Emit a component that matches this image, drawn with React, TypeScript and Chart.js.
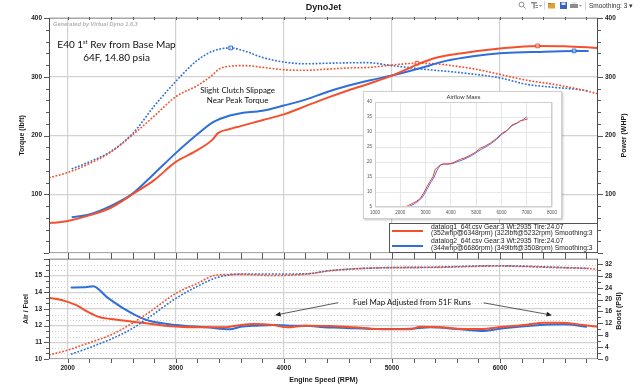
import React, { useEffect, useRef } from 'react';
import { Chart, registerables } from 'chart.js';

Chart.register(...registerables);

const RED = '#f4502e';
const BLUE = '#2e6fd8';
const GRID = '#d2d2d2';
const TICK_COLOR = '#1e1e1e';
const FONT = "'Liberation Sans', Arial, sans-serif";
const NOTE_FONT = "Lato, 'Open Sans', sans-serif";

// ---- axes ----
const RPM_MIN = 1827;
const RPM_MAX = 6907;
const rpmTicks = [2000, 3000, 4000, 5000, 6000];
const torqueTicks = [0, 100, 200, 300, 400];
const powerTicks = [0, 100, 200, 300, 400];
const afrTicks = [10, 11, 12, 13, 14, 15, 16];
const BOOST_MAX = 33.67;
const boostTicks = [0, 4, 8, 12, 16, 20, 24, 28, 32];
const airflowRpmTicks = [1000, 2000, 3000, 4000, 5000, 6000, 7000, 8000];
const airflowTicks = [5, 10, 15, 20, 25, 30, 35, 40];

// ---- datalog1 (red) power WHP ----
const run1PowerRpm = [1827, 1900, 2000, 2200, 2400, 2500, 2600, 2800, 3000, 3200, 3340, 3390, 3500, 3600, 3800, 4000, 4200, 4400, 4600, 4800, 5000, 5250, 5400, 5650, 6000, 6348, 6600, 6907];
const run1Power = [51, 52, 54.5, 64, 77, 88, 100, 124, 155, 175, 193, 204, 211, 216, 226, 236, 250, 264, 277, 289, 302, 322, 332, 340, 348, 352.5, 352, 349];
// ---- datalog2 (blue) power WHP ----
const run2PowerRpm = [2037, 2200, 2400, 2600, 2800, 3000, 3200, 3350, 3500, 3600, 3800, 4000, 4200, 4400, 4600, 4800, 5000, 5250, 5500, 5750, 6000, 6300, 6686, 6820];
const run2Power = [61, 65.5, 80, 101, 135, 170, 202, 223, 234, 238, 242, 251, 261, 274, 285, 294, 302, 314, 327, 335, 340, 342, 344, 344];
// ---- datalog1 torque lbft ----
const run1TorqueRpm = [1827, 2000, 2200, 2400, 2600, 2800, 3000, 3200, 3340, 3400, 3500, 3650, 3800, 4000, 4200, 4400, 4600, 4800, 5000, 5232, 5400, 5632, 5800, 6000, 6250, 6500, 6700, 6907];
const run1Torque = [128, 137, 152, 172, 201, 233, 266, 285, 303, 313, 318, 319, 316, 312, 311, 313, 315, 316, 320, 323, 322, 317, 312, 304, 294, 287, 280, 271];
// ---- datalog2 torque lbft ----
const run2TorqueRpm = [2037, 2200, 2400, 2600, 2800, 3000, 3200, 3350, 3508, 3650, 3800, 4000, 4200, 4400, 4768, 5000, 5232, 5400, 5632, 6000, 6250, 6500, 6686, 6820];
const run2Torque = [143, 155, 173, 203, 250, 292, 328, 344, 349, 343, 333, 325, 322, 323, 324, 319, 314, 311, 307, 298, 287, 282, 279, 276];

// ---- Air/Fuel ----
const run1AfrRpm = [1827, 1900, 2000, 2080, 2200, 2300, 2400, 2600, 2800, 3000, 3200, 3450, 3600, 3720, 3900, 4030, 4200, 4430, 4650, 4860, 5170, 5260, 5450, 5660, 5820, 6030, 6250, 6400, 6560, 6770, 6907];
const run1Afr = [13.67, 13.6, 13.43, 13.23, 12.78, 12.5, 12.4, 12.24, 12.08, 11.95, 11.9, 11.9, 12.04, 12.1, 12.04, 11.9, 12.0, 11.98, 11.9, 11.8, 11.78, 11.93, 11.9, 11.8, 11.8, 11.93, 12.05, 12.18, 12.18, 12.04, 11.93];
const run2AfrRpm = [2030, 2150, 2236, 2360, 2515, 2669, 2762, 3000, 3290, 3500, 3600, 3750, 3900, 4060, 4210, 4370, 4520, 4860, 5170, 5360, 5600, 5820, 6030, 6280, 6590, 6805];
const run2Afr = [14.29, 14.3, 14.37, 13.73, 13.04, 12.5, 12.28, 12.04, 11.9, 11.78, 11.93, 12.0, 12.04, 12.0, 12.0, 11.9, 11.88, 11.8, 11.82, 11.9, 11.8, 11.68, 11.85, 12.0, 12.08, 11.93];
// ---- Boost PSI ----
const run1BoostRpm = [1827, 2000, 2200, 2400, 2600, 2760, 3000, 3190, 3380, 3600, 3900, 4210, 4430, 4890, 5350, 5970, 6590, 6800, 6907];
const run1Boost = [1.35, 3.0, 5.5, 8.1, 12.1, 15.9, 22.1, 25.3, 28.3, 28.5, 28.1, 28.6, 29.7, 30.7, 30.8, 31.3, 30.7, 30.5, 30.2];
const run2BoostRpm = [2030, 2200, 2400, 2600, 2760, 3000, 3190, 3380, 3600, 3900, 4210, 4430, 4890, 5350, 5970, 6590, 6820];
const run2Boost = [1.6, 3.8, 6.7, 10.3, 14.2, 20.4, 24.3, 27.4, 28.6, 28.6, 28.7, 29.8, 30.7, 30.9, 31.4, 30.8, 30.5];

// ---- Airflow Mass inset ----
const run1AirRpm = [2190, 2320, 2455, 2620, 2786, 2920, 3050, 3180, 3300, 3381, 3480, 3579, 3700, 3850, 4042, 4200, 4373, 4560, 4770, 4960, 5167, 5350, 5563, 5800, 6026, 6230, 6423, 6600, 6754, 6900, 7044];
const run1Air = [5, 5.5, 6.1, 6.8, 7.8, 9.6, 11.7, 13.6, 15.2, 17.6, 18.2, 19.0, 19.4, 19.3, 19.6, 20.2, 20.9, 21.4, 22.3, 23.2, 24.6, 25.3, 26.3, 27.8, 29.6, 30.6, 32.4, 32.9, 33.8, 34.0, 34.4];
const run2AirRpm = [2300, 2430, 2550, 2700, 2850, 2980, 3100, 3220, 3340, 3440, 3530, 3620, 3750, 3900, 4080, 4250, 4400, 4600, 4800, 5000, 5200, 5400, 5600, 5800, 6000, 6200, 6400, 6580, 6750, 6880, 7000];
const run2Air = [5, 5.5, 6.0, 6.9, 8.0, 9.7, 11.6, 13.4, 15.0, 17.0, 18.3, 19.1, 19.3, 19.3, 19.5, 20.1, 20.5, 21.2, 22.0, 23.1, 24.2, 25.1, 26.2, 27.5, 29.1, 30.3, 32.0, 32.8, 33.6, 34.3, 35.0];

// ---- texts ----
const legendLines = [
  'datalog1_64f.csv Gear:3 Wt:2935 Tire:24.07',
  '(352whp@6348rpm) (322lbft@5232rpm) Smoothing:3',
  'datalog2_64f.csv Gear:3 Wt:2935 Tire:24.07',
  '(344whp@6686rpm) (349lbft@3508rpm) Smoothing:3',
];
// annotation anchors in data units
const noteTitle = { rpm: 2452, torque: 349 };
const noteTitle2 = { rpm: 2452, torque: 327 };
const noteClutch = { rpm: 3572, torque: 272 };
const noteClutch2 = { rpm: 3572, torque: 255 };
const noteFuel = { rpm: 5185, afr: 13.23 };
const arrowLeft = { fromRpm: 4503, fromAfr: 13.38, toRpm: 3919, toAfr: 12.63 };
const arrowRight = { fromRpm: 5848, fromAfr: 13.37, toRpm: 6481, toAfr: 12.63 };

const tickFont = { family: FONT, size: 6.5, weight: 'bold' as const };

function pts(xs: number[], ys: number[]) {
  return xs.map((x, i) => ({ x, y: ys[i] }));
}

function line(label: string, xs: number[], ys: number[], color: string, dotted: boolean, axis: string, marker: boolean) {
  let maxI = 0;
  ys.forEach((v, i) => { if (v > ys[maxI]) maxI = i; });
  return {
    label,
    data: pts(xs, ys),
    yAxisID: axis,
    borderColor: color,
    backgroundColor: color,
    borderWidth: dotted ? 1.6 : 2,
    borderDash: dotted ? [1.8, 1.6] : [],
    cubicInterpolationMode: 'monotone' as const,
    fill: false,
    pointStyle: 'rect' as const,
    pointRadius: (c: any) => (marker && c.dataIndex === maxI ? 2.6 : 0),
    pointBorderWidth: 1,
    pointBorderColor: color,
    pointBackgroundColor: 'rgba(255,255,255,0.5)',
    pointHitRadius: 0,
  };
}

function fit(ctx: CanvasRenderingContext2D, text: string, target: number, family: string, weight = 'normal', style = 'normal') {
  ctx.font = `${style} ${weight} 20px ${family}`;
  const w = ctx.measureText(text).width;
  const size = (20 * target) / w;
  ctx.font = `${style} ${weight} ${size}px ${family}`;
  return size;
}

function arrow(ctx: CanvasRenderingContext2D, x1: number, y1: number, x2: number, y2: number) {
  const ang = Math.atan2(y2 - y1, x2 - x1);
  const L = 5.5, W = 2.4;
  ctx.beginPath();
  ctx.moveTo(x1, y1);
  ctx.lineTo(x2 - Math.cos(ang) * L * 0.8, y2 - Math.sin(ang) * L * 0.8);
  ctx.stroke();
  ctx.beginPath();
  ctx.moveTo(x2, y2);
  ctx.lineTo(x2 - Math.cos(ang) * L - Math.sin(ang) * W, y2 - Math.sin(ang) * L + Math.cos(ang) * W);
  ctx.lineTo(x2 - Math.cos(ang) * L + Math.sin(ang) * W, y2 - Math.sin(ang) * L - Math.cos(ang) * W);
  ctx.closePath();
  ctx.fill();
}

function frame(ctx: CanvasRenderingContext2D, a: any) {
  ctx.strokeStyle = '#a8a8a8';
  ctx.lineWidth = 1;
  ctx.beginPath();
  ctx.moveTo(a.left, Math.round(a.top) + 0.5); ctx.lineTo(a.right, Math.round(a.top) + 0.5);
  ctx.moveTo(a.left, Math.round(a.bottom) - 0.5); ctx.lineTo(a.right, Math.round(a.bottom) - 0.5);
  ctx.stroke();
  ctx.strokeStyle = '#4a4a4a';
  ctx.beginPath();
  ctx.moveTo(Math.round(a.left) + 0.5, a.top); ctx.lineTo(Math.round(a.left) + 0.5, a.bottom);
  ctx.moveTo(Math.round(a.right) - 0.5, a.top); ctx.lineTo(Math.round(a.right) - 0.5, a.bottom);
  ctx.stroke();
}

function vText(ctx: CanvasRenderingContext2D, text: string, x: number, y: number) {
  ctx.save();
  ctx.translate(x, y);
  ctx.rotate(-Math.PI / 2);
  ctx.textAlign = 'center';
  ctx.textBaseline = 'middle';
  ctx.fillText(text, 0, 0);
  ctx.restore();
}

const topDecor = {
  id: 'topDecor',
  afterDraw(chart: any) {
    const { ctx, chartArea: a, scales } = chart;
    const x = scales.x, yT = scales.yT;
    ctx.save();
    frame(ctx, a);
    // minor ticks
    ctx.strokeStyle = '#5a5a5a';
    ctx.lineWidth = 1;
    ctx.beginPath();
    for (let v = 2000; v <= 6800; v += 200) {
      const p = Math.round(x.getPixelForValue(v)) + 0.5;
      ctx.moveTo(p, a.bottom); ctx.lineTo(p, a.bottom + 4);
      ctx.moveTo(p, a.top - 1); ctx.lineTo(p, a.top + 2);
    }
    for (let v = 0; v <= 400; v += 20) {
      const p = Math.round(yT.getPixelForValue(v)) + 0.5;
      const len = v % 100 === 0 ? 5 : 3;
      ctx.moveTo(a.left - len, p); ctx.lineTo(a.left, p);
      ctx.moveTo(a.right, p); ctx.lineTo(a.right + len, p);
    }
    ctx.stroke();

    // axis titles
    ctx.fillStyle = '#1a1a1a';
    ctx.font = `bold 7px ${FONT}`;
    vText(ctx, 'Torque (lbft)', a.left - 27, (a.top + a.bottom) / 2);
    vText(ctx, 'Power (WHP)', a.right + 26, (a.top + a.bottom) / 2);

    // chart title
    ctx.font = `bold 9px ${FONT}`;
    ctx.textAlign = 'center';
    ctx.textBaseline = 'middle';
    ctx.fillText('DynoJet', (a.left + a.right) / 2, 7.5);

    // toolbar
    ctx.strokeStyle = '#8a8a8a';
    ctx.beginPath(); ctx.arc(521.5, 4.5, 2.4, 0, Math.PI * 2); ctx.stroke();
    ctx.beginPath(); ctx.moveTo(523.3, 6.3); ctx.lineTo(525.5, 8.5); ctx.stroke();
    ctx.fillStyle = '#8c8c8c';
    ctx.fillRect(531, 2, 6, 1.5); ctx.fillRect(533.3, 2, 1.5, 6.5); ctx.fillRect(535.5, 5, 2.5, 1); ctx.fillRect(535.5, 7, 2.5, 1);
    ctx.beginPath(); ctx.moveTo(539, 5); ctx.lineTo(542, 5); ctx.lineTo(540.5, 6.7); ctx.fill();
    ctx.fillStyle = '#d8d8d8';
    ctx.fillRect(544, 1, 1, 9); ctx.fillRect(585, 1, 1, 9);
    ctx.fillStyle = '#d9a33a'; ctx.fillRect(548, 3, 7, 5.5);
    ctx.fillStyle = '#b27a1c'; ctx.fillRect(548, 3, 3, 1.2);
    ctx.fillStyle = '#3b62c4'; ctx.fillRect(560, 2, 7, 7);
    ctx.fillStyle = '#dfe6f7'; ctx.fillRect(561.5, 2.5, 4, 2.5);
    ctx.fillStyle = '#8d8d8d'; ctx.fillRect(570, 4, 8, 4);
    ctx.fillStyle = '#e6e6e6'; ctx.fillRect(571.5, 2, 5, 2);
    ctx.fillStyle = '#8c8c8c';
    ctx.beginPath(); ctx.moveTo(579, 5); ctx.lineTo(582, 5); ctx.lineTo(580.5, 6.7); ctx.fill();
    ctx.fillStyle = '#333';
    ctx.font = `6.5px ${FONT}`;
    ctx.textAlign = 'left';
    ctx.fillText('Smoothing: 3 \u25BE', 589, 6);

    // generated by
    ctx.fillStyle = '#b3b3b3';
    fit(ctx, 'Generated by Virtual Dyno 1.6.3', 85, FONT, 'bold', 'italic');
    ctx.textAlign = 'left';
    ctx.textBaseline = 'middle';
    ctx.fillText('Generated by Virtual Dyno 1.6.3', a.left + 4, a.top + 6.5);

    // title note with superscript
    ctx.fillStyle = '#111';
    ctx.textBaseline = 'alphabetic';
    const p1 = 'E40 1', sup = 'st', p2 = ' Rev from Base Map';
    ctx.font = `20px ${NOTE_FONT}`;
    const w1 = ctx.measureText(p1).width, w2 = ctx.measureText(p2).width;
    ctx.font = `12px ${NOTE_FONT}`;
    const ws = ctx.measureText(sup).width;
    const s = (20 * (123 - ws * 0.95)) / (w1 + w2);
    ctx.font = `${s}px ${NOTE_FONT}`;
    const m1 = ctx.measureText(p1).width, m2 = ctx.measureText(p2).width;
    ctx.font = `${s * 0.58}px ${NOTE_FONT}`;
    const ms = ctx.measureText(sup).width;
    const total = m1 + ms + m2;
    const cx = x.getPixelForValue(noteTitle.rpm);
    const by = yT.getPixelForValue(noteTitle.torque);
    let sx = cx - total / 2;
    ctx.textAlign = 'left';
    ctx.font = `${s}px ${NOTE_FONT}`;
    ctx.fillText(p1, sx, by);
    sx += m1;
    ctx.font = `${s * 0.58}px ${NOTE_FONT}`;
    ctx.fillText(sup, sx, by - s * 0.38);
    sx += ms;
    ctx.font = `${s}px ${NOTE_FONT}`;
    ctx.fillText(p2, sx, by);
    ctx.textAlign = 'center';
    ctx.fillText('64F, 14.80 psia', x.getPixelForValue(noteTitle2.rpm), yT.getPixelForValue(noteTitle2.torque));

    fit(ctx, 'Slight Clutch Slippage', 75, NOTE_FONT);
    ctx.fillText('Slight Clutch Slippage', x.getPixelForValue(noteClutch.rpm), yT.getPixelForValue(noteClutch.torque));
    ctx.fillText('Near Peak Torque', x.getPixelForValue(noteClutch2.rpm), yT.getPixelForValue(noteClutch2.torque));

    // legend box
    const lx = 389, ly = 223, lw = a.right - lx, lh = a.bottom - ly;
    ctx.fillStyle = '#fff';
    ctx.fillRect(lx, ly, lw, lh);
    ctx.strokeStyle = '#555';
    ctx.lineWidth = 1;
    ctx.strokeRect(lx + 0.5, ly + 0.5, lw - 1, lh - 1);
    ctx.lineWidth = 2;
    ctx.strokeStyle = RED;
    ctx.beginPath(); ctx.moveTo(lx + 3, ly + 8); ctx.lineTo(lx + 34, ly + 8); ctx.stroke();
    ctx.strokeStyle = BLUE;
    ctx.beginPath(); ctx.moveTo(lx + 3, ly + 23); ctx.lineTo(lx + 34, ly + 23); ctx.stroke();
    ctx.fillStyle = '#222';
    fit(ctx, legendLines[1], 162, FONT);
    ctx.textAlign = 'left';
    ctx.textBaseline = 'middle';
    const rows = [3.8, 10.6, 18.2, 25.4];
    legendLines.forEach((t, i) => ctx.fillText(t, lx + 42, ly + rows[i]));
    ctx.restore();
  },
};

const bottomDecor = {
  id: 'bottomDecor',
  beforeDatasetsDraw(chart: any) {
    const { ctx, chartArea: a, scales } = chart;
    const yA = scales.yA;
    ctx.save();
    ctx.strokeStyle = '#cdcdcd';
    ctx.lineWidth = 1;
    ctx.setLineDash([1, 2]);
    ctx.beginPath();
    for (let k = 30; k < 48; k++) {
      if (k % 3 === 0) continue;
      const p = Math.round(yA.getPixelForValue(k / 3)) + 0.5;
      ctx.moveTo(a.left, p); ctx.lineTo(a.right, p);
    }
    ctx.stroke();
    ctx.restore();
  },
  afterDraw(chart: any) {
    const { ctx, chartArea: a, scales } = chart;
    const x = scales.x, yA = scales.yA, yB = scales.yB;
    ctx.save();
    frame(ctx, a);
    ctx.strokeStyle = '#5a5a5a';
    ctx.lineWidth = 1;
    ctx.beginPath();
    for (let v = 2000; v <= 6800; v += 200) {
      const p = Math.round(x.getPixelForValue(v)) + 0.5;
      ctx.moveTo(p, a.bottom); ctx.lineTo(p, a.bottom + 4);
      ctx.moveTo(p, a.top - 4); ctx.lineTo(p, a.top);
    }
    for (let k = 30; k <= 48; k++) {
      const p = Math.round(yA.getPixelForValue(k / 3)) + 0.5;
      const len = k % 3 === 0 ? 5 : 3;
      ctx.moveTo(a.left - len, p); ctx.lineTo(a.left, p);
    }
    for (let v = 0; v <= 32; v += 2) {
      const p = Math.round(yB.getPixelForValue(v)) + 0.5;
      const len = v % 4 === 0 ? 5 : 3;
      ctx.moveTo(a.right, p); ctx.lineTo(a.right + len, p);
    }
    ctx.stroke();

    ctx.fillStyle = '#1a1a1a';
    ctx.font = `bold 7px ${FONT}`;
    vText(ctx, 'Air / Fuel', a.left - 23, (a.top + a.bottom) / 2);
    vText(ctx, 'Boost (PSI)', a.right + 21.5, (a.top + a.bottom) / 2 + 2);
    ctx.textAlign = 'center';
    ctx.textBaseline = 'middle';
    ctx.fillText('Engine Speed (RPM)', (a.left + a.right) / 2, a.bottom + 21);

    // fuel map note
    ctx.fillStyle = '#111';
    fit(ctx, 'Fuel Map Adjusted from 51F Runs', 118, NOTE_FONT);
    ctx.textAlign = 'center';
    ctx.textBaseline = 'alphabetic';
    ctx.fillText('Fuel Map Adjusted from 51F Runs', x.getPixelForValue(noteFuel.rpm), yA.getPixelForValue(noteFuel.afr));
    ctx.strokeStyle = '#333';
    ctx.fillStyle = '#222';
    ctx.lineWidth = 0.8;
    for (const ar of [arrowLeft, arrowRight]) {
      arrow(ctx, x.getPixelForValue(ar.fromRpm), yA.getPixelForValue(ar.fromAfr), x.getPixelForValue(ar.toRpm), yA.getPixelForValue(ar.toAfr));
    }
    ctx.restore();
  },
};

const insetDecor = {
  id: 'insetDecor',
  afterDraw(chart: any) {
    const { ctx, chartArea: a } = chart;
    ctx.save();
    ctx.fillStyle = '#333';
    ctx.font = `6px ${FONT}`;
    ctx.textAlign = 'center';
    ctx.textBaseline = 'middle';
    ctx.fillText('Airflow Mass', (a.left + a.right) / 2, 5.5);
    ctx.strokeStyle = '#cfcfcf';
    ctx.lineWidth = 1;
    ctx.strokeRect(Math.round(a.left) + 0.5, Math.round(a.top) + 0.5, Math.round(a.width) - 1, Math.round(a.height) - 1);
    ctx.restore();
  },
};

function setTicks(list: number[]) {
  return (s: any) => { s.ticks = list.map((v) => ({ value: v })); };
}

export default function App() {
  const topRef = useRef<HTMLCanvasElement>(null);
  const botRef = useRef<HTMLCanvasElement>(null);
  const insRef = useRef<HTMLCanvasElement>(null);

  useEffect(() => {
    const charts: Chart[] = [];
    const common = {
      responsive: false,
      animation: false as const,
      events: [] as any[],
      plugins: { legend: { display: false }, tooltip: { enabled: false }, title: { display: false } },
    };

    charts.push(new Chart(topRef.current as HTMLCanvasElement, {
      type: 'line',
      data: {
        datasets: [
          line('datalog1 power', run1PowerRpm, run1Power, RED, false, 'yP', true),
          line('datalog2 power', run2PowerRpm, run2Power, BLUE, false, 'yP', true),
          line('datalog1 torque', run1TorqueRpm, run1Torque, RED, true, 'yT', true),
          line('datalog2 torque', run2TorqueRpm, run2Torque, BLUE, true, 'yT', true),
        ] as any,
      },
      options: {
        ...common,
        layout: { padding: { top: 18, left: 0, right: 0, bottom: 0 } },
        scales: {
          x: {
            type: 'linear', min: RPM_MIN, max: RPM_MAX,
            afterBuildTicks: setTicks(rpmTicks),
            ticks: { display: false },
            grid: { color: GRID, lineWidth: 1.2, drawTicks: false },
            border: { display: false },
            afterFit: (s: any) => { s.height = 133; },
          },
          yT: {
            type: 'linear', position: 'left', min: 0, max: 400,
            afterBuildTicks: setTicks(torqueTicks),
            ticks: { font: tickFont, color: TICK_COLOR, padding: 7, callback: (v: any) => (v === 0 ? '' : String(v)) },
            grid: { color: GRID, lineWidth: 1.2, drawTicks: false },
            border: { display: false },
            afterFit: (s: any) => { s.width = 49; },
          },
          yP: {
            type: 'linear', position: 'right', min: 0, max: 400,
            afterBuildTicks: setTicks(powerTicks),
            ticks: { font: tickFont, color: TICK_COLOR, padding: 7, callback: (v: any) => (v === 0 ? '' : String(v)) },
            grid: { drawOnChartArea: false, drawTicks: false },
            border: { display: false },
            afterFit: (s: any) => { s.width = 42; },
          },
        },
      } as any,
      plugins: [topDecor],
    }));

    charts.push(new Chart(botRef.current as HTMLCanvasElement, {
      type: 'line',
      data: {
        datasets: [
          line('datalog1 boost', run1BoostRpm, run1Boost, RED, true, 'yB', false),
          line('datalog2 boost', run2BoostRpm, run2Boost, BLUE, true, 'yB', false),
          line('datalog1 A/F', run1AfrRpm, run1Afr, RED, false, 'yA', false),
          line('datalog2 A/F', run2AfrRpm, run2Afr, BLUE, false, 'yA', false),
        ] as any,
      },
      options: {
        ...common,
        layout: { padding: { top: 259, left: 0, right: 0, bottom: 0 } },
        scales: {
          x: {
            type: 'linear', min: RPM_MIN, max: RPM_MAX,
            afterBuildTicks: setTicks(rpmTicks),
            ticks: { font: tickFont, color: TICK_COLOR, padding: 5, maxRotation: 0, callback: (v: any) => String(v) },
            grid: { color: GRID, lineWidth: 1.2, drawTicks: false },
            border: { display: false },
            afterFit: (s: any) => { s.height = 27; },
          },
          yA: {
            type: 'linear', position: 'left', min: 10, max: 16,
            afterBuildTicks: setTicks(afrTicks),
            ticks: { font: tickFont, color: TICK_COLOR, padding: 7, callback: (v: any) => (v === 16 ? '' : String(v)) },
            grid: { color: GRID, lineWidth: 1.2, drawTicks: false },
            border: { display: false },
            afterFit: (s: any) => { s.width = 49; },
          },
          yB: {
            type: 'linear', position: 'right', min: 0, max: BOOST_MAX,
            afterBuildTicks: setTicks(boostTicks),
            ticks: { font: tickFont, color: TICK_COLOR, padding: 7, callback: (v: any) => String(v) },
            grid: { drawOnChartArea: false, drawTicks: false },
            border: { display: false },
            afterFit: (s: any) => { s.width = 42; },
          },
        },
      } as any,
      plugins: [bottomDecor],
    }));

    const insFont = { family: FONT, size: 4.5 };
    charts.push(new Chart(insRef.current as HTMLCanvasElement, {
      type: 'line',
      data: {
        datasets: [
          { data: pts(run1AirRpm, run1Air), borderColor: '#e2453c', borderWidth: 1, pointRadius: 0, tension: 0 },
          { data: pts(run2AirRpm, run2Air), borderColor: '#5a73d8', borderWidth: 1, pointRadius: 0, tension: 0 },
        ] as any,
      },
      options: {
        ...common,
        layout: { padding: { top: 10, left: 0, right: 9, bottom: 0 } },
        scales: {
          x: {
            type: 'linear', min: 1000, max: 8000,
            afterBuildTicks: setTicks(airflowRpmTicks),
            ticks: { font: insFont, color: '#555', padding: 3, maxRotation: 0, callback: (v: any) => String(v) },
            grid: { color: '#e6e6e6', drawTicks: false },
            border: { display: false },
            afterFit: (s: any) => { s.height = 11; },
          },
          y: {
            type: 'linear', min: 5, max: 40,
            afterBuildTicks: setTicks(airflowTicks),
            ticks: { font: insFont, color: '#555', padding: 3, callback: (v: any) => String(v) },
            grid: { color: '#e6e6e6', drawTicks: false },
            border: { display: false },
            afterFit: (s: any) => { s.width = 11; },
          },
        },
      } as any,
      plugins: [insetDecor],
    }));

    return () => charts.forEach((c) => c.destroy());
  }, []);

  return (
    <div style={{ position: 'absolute', left: 0, top: 0, width: 640, height: 386, background: '#fff', overflow: 'hidden' }}>
      <canvas ref={topRef} width={640} height={386} style={{ position: 'absolute', left: 0, top: 0 }} />
      <canvas ref={botRef} width={640} height={386} style={{ position: 'absolute', left: 0, top: 0 }} />
      <div style={{ position: 'absolute', left: 363, top: 91, width: 197, height: 126, border: '1px solid #d0d0d0', background: '#fff', boxShadow: '1px 1px 2px rgba(0,0,0,0.25)' }}>
        <canvas ref={insRef} width={197} height={126} style={{ display: 'block' }} />
      </div>
    </div>
  );
}
